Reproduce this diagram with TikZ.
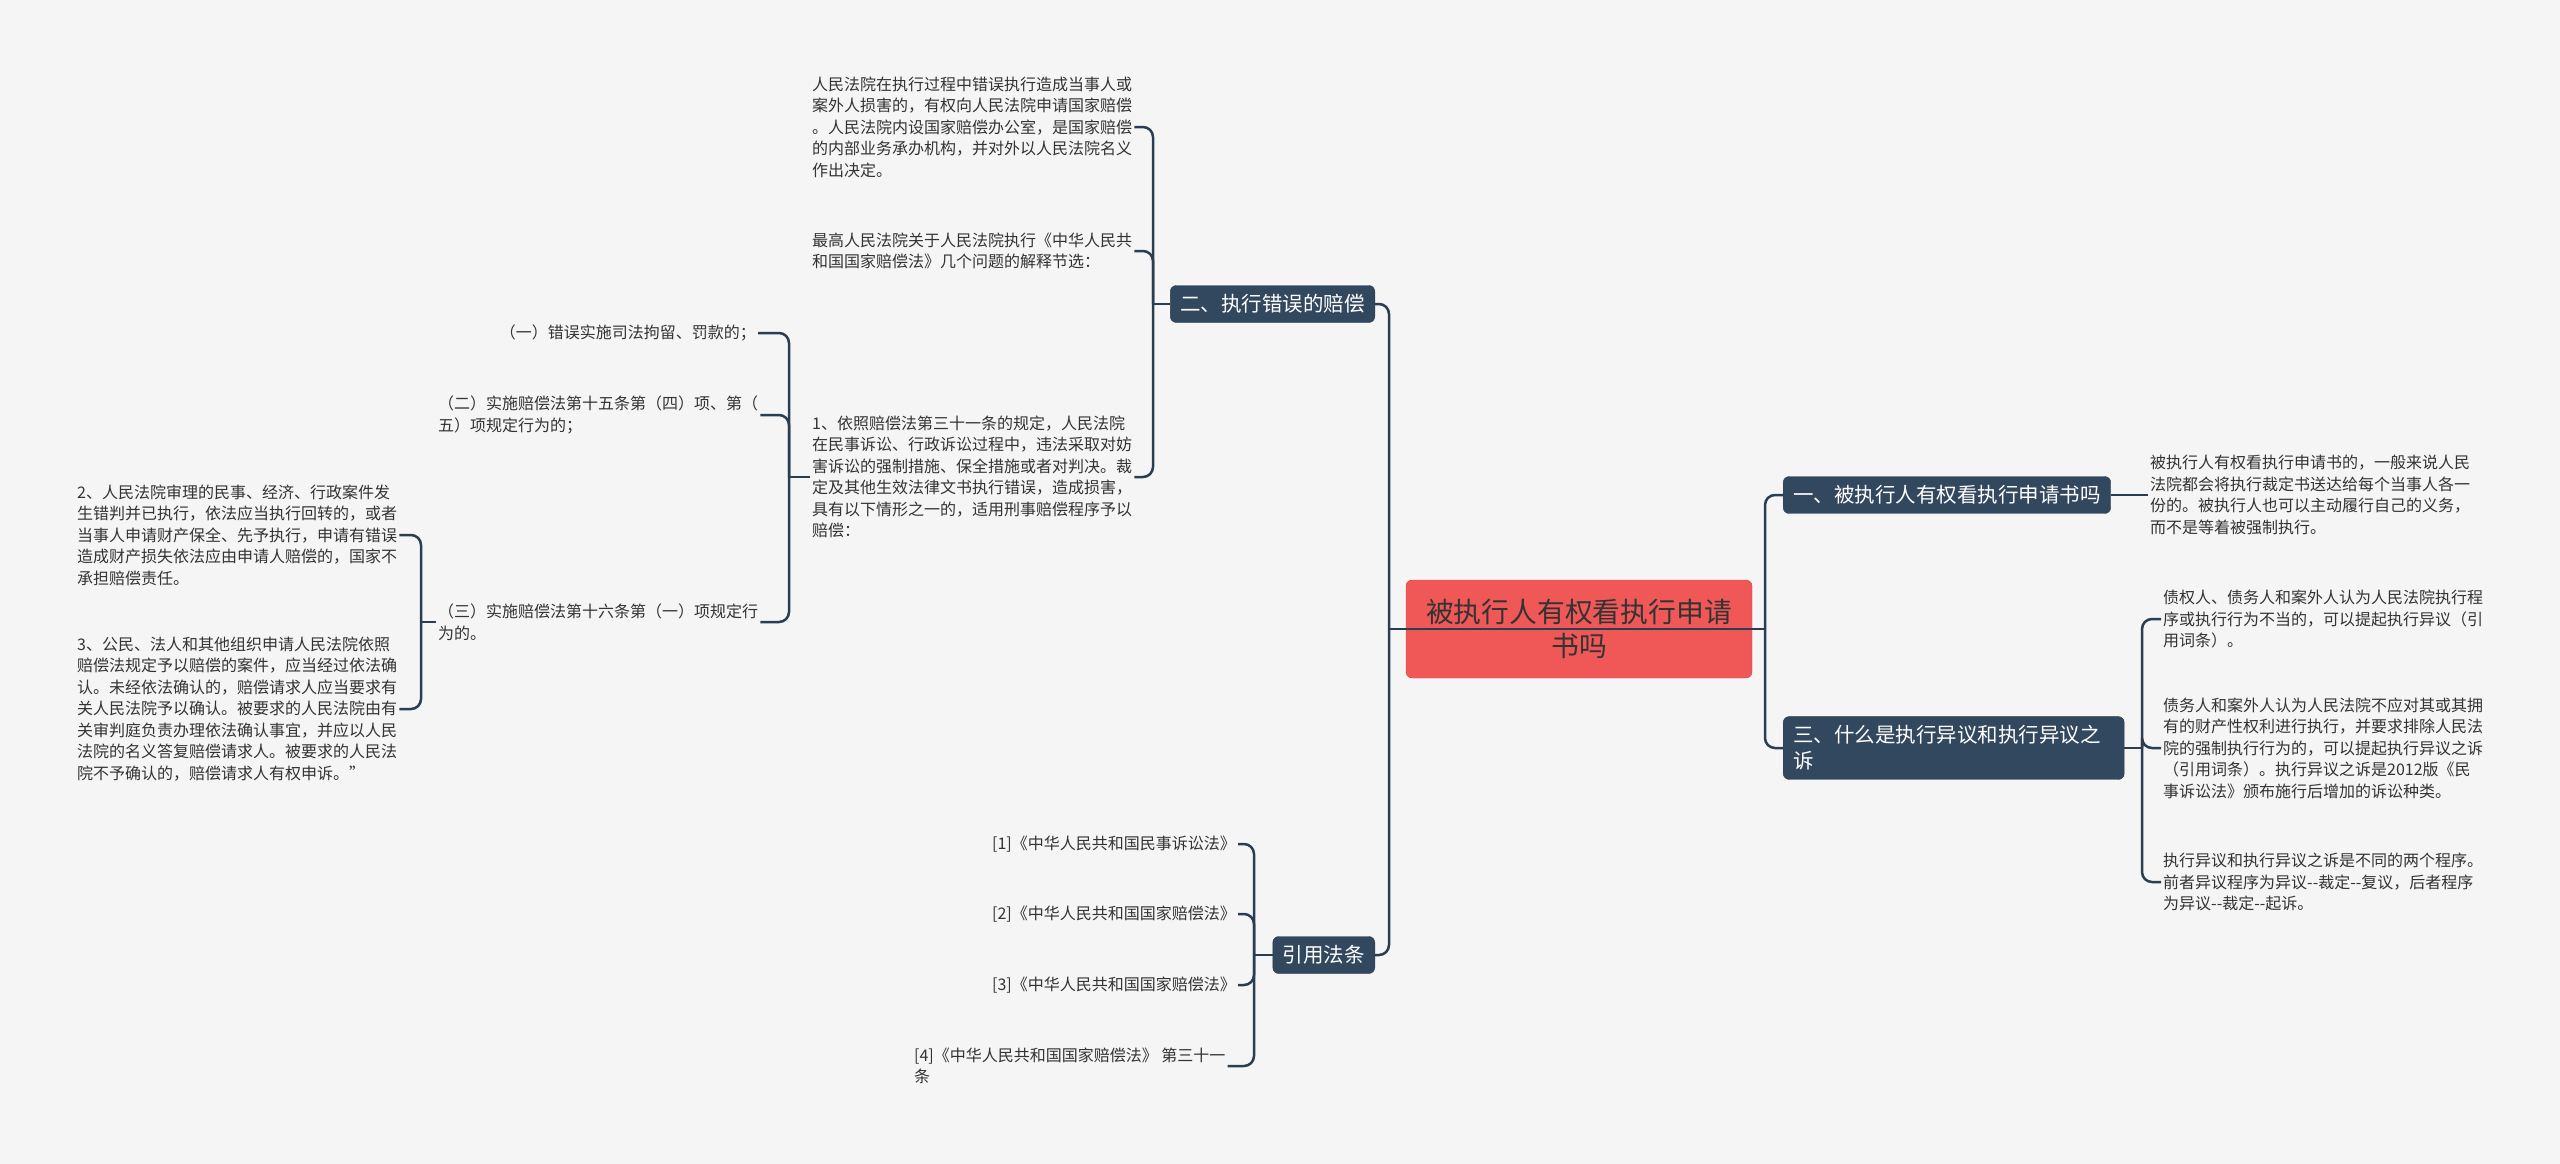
\documentclass[tikz,border=0pt]{standalone}
\usepackage{fontspec}
\newfontfamily\cjk{Noto Sans CJK SC}
\definecolor{pagebg}{RGB}{245,245,245}
\definecolor{linkc}{RGB}{43,61,80}
\definecolor{boxblue}{RGB}{50,72,94}
\definecolor{rootred}{RGB}{240,88,88}
\definecolor{txtgray}{RGB}{51,51,51}

\begin{document}
\begin{tikzpicture}[x=1pt,y=-1pt,
    leaf/.style={inner sep=2pt,align=left,text=txtgray,
      font=\cjk\fontsize{16}{21.5}\selectfont},
    topic/.style={fill=boxblue,draw=boxblue!80!black,rounded corners=6pt,
      inner xsep=10pt,inner ysep=9pt,text=white,align=left,
      font=\cjk\fontsize{20.5}{26}\selectfont},
    link/.style={draw=linkc,line width=2.5pt,rounded corners=10pt}]
    \fill[pagebg] (0,0) rectangle (2560,1164);
    \useasboundingbox (0,0) rectangle (2560,1164);

    \node[fill=rootred,draw=rootred!85!black,rounded corners=6pt,
      minimum width=346pt,minimum height=98pt,align=center,text=txtgray,
      font=\cjk\fontsize{27.8}{34}\selectfont] (root) at (1579,629)
      {被执行人有权看执行申请\\书吗};

    \node[topic,anchor=east] (left2) at (1375,304) {二、执行错误的赔偿};
    \node[topic,anchor=east] (cite) at (1375,955) {引用法条};
    \node[topic,anchor=west] (right1) at (1783,495) {一、被执行人有权看执行申请书吗};
    \node[topic,anchor=west,text width=321pt] (right3) at (1783,748)
      {三、什么是执行异议和执行异议之\\诉};

    \coordinate (lj) at (1389,629);
    \coordinate (rj) at (1765,629);
    \draw[link] (left2.east) -| (lj);
    \draw[link] (cite.east) -| (lj);
    \draw[link] (right1.west) -| (rj);
    \draw[link] (right3.west) -| (rj);
    \draw[link] (lj) -- (rj);

    \node[leaf,anchor=west] (lossA) at (810,127)
      {人民法院在执行过程中错误执行造成当事人或\\
       案外人损害的，有权向人民法院申请国家赔偿\\
       。人民法院内设国家赔偿办公室，是国家赔偿\\
       的内部业务承办机构，并对外以人民法院名义\\
       作出决定。};
    \node[leaf,anchor=west] (lossB) at (810,251)
      {最高人民法院关于人民法院执行《中华人民共\\
       和国国家赔偿法》几个问题的解释节选：};
    \node[leaf,anchor=west] (lossC) at (810,477)
      {1、依照赔偿法第三十一条的规定，人民法院\\
       在民事诉讼、行政诉讼过程中，违法采取对妨\\
       害诉讼的强制措施、保全措施或者对判决。裁\\
       定及其他生效法律文书执行错误，造成损害，\\
       具有以下情形之一的，适用刑事赔偿程序予以\\
       赔偿：};
    \coordinate (j2) at (1153,304);
    \draw[link] (left2.west) -- (j2);
    \draw[link] (lossA.east) -| (j2);
    \draw[link] (lossB.east) -| (j2);
    \draw[link] (lossC.east) -| (j2);

    \node[leaf,anchor=east] (case1) at (758,333) {（一）错误实施司法拘留、罚款的；};
    \node[leaf,anchor=west] (case2) at (436,415)
      {（二）实施赔偿法第十五条第（四）项、第（\\
       五）项规定行为的；};
    \node[leaf,anchor=west] (case3) at (436,622)
      {（三）实施赔偿法第十六条第（一）项规定行\\
       为的。};
    \coordinate (jc) at (789,477);
    \draw[link] (lossC.west) -- (jc);
    \draw[link] (case1.east) -| (jc);
    \draw[link] (case2.east) -| (jc);
    \draw[link] (case3.east) -| (jc);

    \node[leaf,anchor=west] (note2) at (75,535)
      {2、人民法院审理的民事、经济、行政案件发\\
       生错判并已执行，依法应当执行回转的，或者\\
       当事人申请财产保全、先予执行，申请有错误\\
       造成财产损失依法应由申请人赔偿的，国家不\\
       承担赔偿责任。};
    \node[leaf,anchor=west] (note3) at (75,709)
      {3、公民、法人和其他组织申请人民法院依照\\
       赔偿法规定予以赔偿的案件，应当经过依法确\\
       认。未经依法确认的，赔偿请求人应当要求有\\
       关人民法院予以确认。被要求的人民法院由有\\
       关审判庭负责办理依法确认事宜，并应以人民\\
       法院的名义答复赔偿请求人。被要求的人民法\\
       院不予确认的，赔偿请求人有权申诉。”};
    \coordinate (j3) at (421,622);
    \draw[link] (case3.west) -- (j3);
    \draw[link] (note2.east) -| (j3);
    \draw[link] (note3.east) -| (j3);

    \node[leaf,anchor=east] (law1) at (1238,844) {[1]《中华人民共和国民事诉讼法》};
    \node[leaf,anchor=east] (law2) at (1238,914) {[2]《中华人民共和国国家赔偿法》};
    \node[leaf,anchor=east] (law3) at (1238,985) {[3]《中华人民共和国国家赔偿法》};
    \node[leaf,anchor=west] (law4) at (912,1066)
      {[4]《中华人民共和国国家赔偿法》 第三十一\\条};
    \coordinate (jl) at (1254,955);
    \draw[link] (cite.west) -- (jl);
    \draw[link] (law1.east) -| (jl);
    \draw[link] (law2.east) -| (jl);
    \draw[link] (law3.east) -| (jl);
    \draw[link] (law4.east) -| (jl);

    \node[leaf,anchor=west] (ans1) at (2148,495)
      {被执行人有权看执行申请书的，一般来说人民\\
       法院都会将执行裁定书送达给每个当事人各一\\
       份的。被执行人也可以主动履行自己的义务，\\
       而不是等着被强制执行。};
    \draw[link] (right1.east) -- (ans1.west);

    \node[leaf,anchor=west] (objA) at (2161,619)
      {债权人、债务人和案外人认为人民法院执行程\\
       序或执行行为不当的，可以提起执行异议（引\\
       用词条）。};
    \node[leaf,anchor=west] (objB) at (2161,748)
      {债务人和案外人认为人民法院不应对其或其拥\\
       有的财产性权利进行执行，并要求排除人民法\\
       院的强制执行行为的，可以提起执行异议之诉\\
       （引用词条）。执行异议之诉是2012版《民\\
       事诉讼法》颁布施行后增加的诉讼种类。};
    \node[leaf,anchor=west] (objC) at (2161,882)
      {执行异议和执行异议之诉是不同的两个程序。\\
       前者异议程序为异议-{}-裁定-{}-复议，后者程序\\
       为异议-{}-裁定-{}-起诉。};
    \coordinate (jq) at (2142,748);
    \draw[link] (right3.east) -- (jq);
    \draw[link] (objA.west) -| (jq);
    \draw[link] (objB.west) -| (jq);
    \draw[link] (objC.west) -| (jq);
\end{tikzpicture}
\end{document}
